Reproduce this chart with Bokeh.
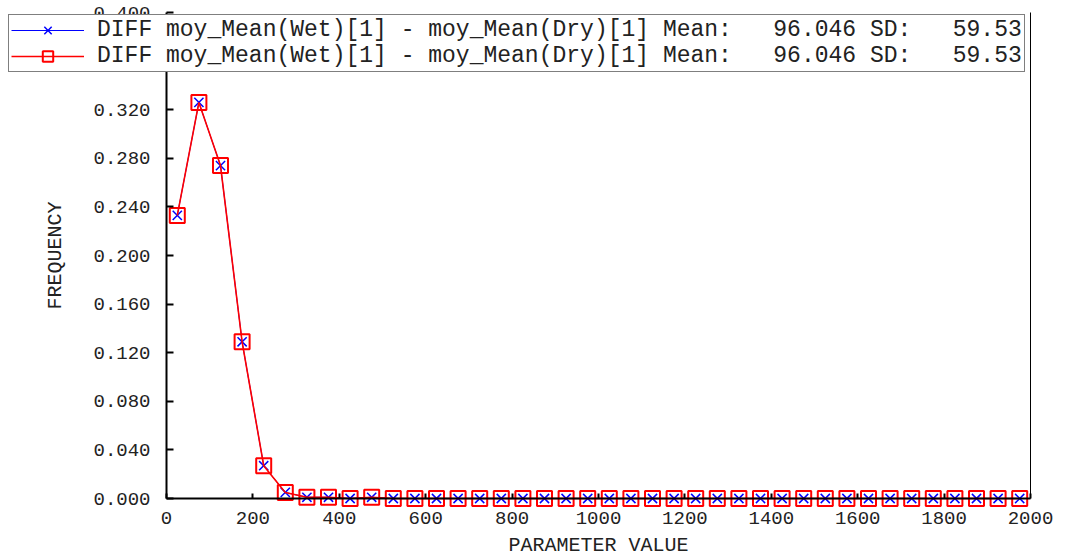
from bokeh.plotting import figure
from bokeh.models import (Legend, LegendItem, LinearAxis, Range1d, FixedTicker,
                          NumeralTickFormatter, ColumnDataSource)
from bokeh.embed import file_html
from bokeh.resources import INLINE

# ---- data ----
bin_centers = [25, 75, 125, 175, 225, 275, 325, 375, 425, 475,
               525, 575, 625, 675, 725, 775, 825, 875, 925, 975,
               1025, 1075, 1125, 1175, 1225, 1275, 1325, 1375, 1425, 1475,
               1525, 1575, 1625, 1675, 1725, 1775, 1825, 1875, 1925, 1975]
freq_wet_dry_1 = [0.233, 0.326, 0.274, 0.129, 0.027, 0.005, 0.001, 0.001, 0.000, 0.001,
                  0.000, 0.000, 0.000, 0.000, 0.000, 0.000, 0.000, 0.000, 0.000, 0.000,
                  0.000, 0.000, 0.000, 0.000, 0.000, 0.000, 0.000, 0.000, 0.000, 0.000,
                  0.000, 0.000, 0.000, 0.000, 0.000, 0.000, 0.000, 0.000, 0.000, 0.000]
freq_wet_dry_2 = [0.233, 0.326, 0.274, 0.129, 0.027, 0.005, 0.001, 0.001, 0.000, 0.001,
                  0.000, 0.000, 0.000, 0.000, 0.000, 0.000, 0.000, 0.000, 0.000, 0.000,
                  0.000, 0.000, 0.000, 0.000, 0.000, 0.000, 0.000, 0.000, 0.000, 0.000,
                  0.000, 0.000, 0.000, 0.000, 0.000, 0.000, 0.000, 0.000, 0.000, 0.000]
series_names = ["DIFF moy_Mean(Wet)[1] - moy_Mean(Dry)[1]",
                "DIFF moy_Mean(Wet)[1] - moy_Mean(Dry)[1]"]
series_means = [96.046, 96.046]
series_sds = [59.53, 59.53]
x_ticks = [0, 200, 400, 600, 800, 1000, 1200, 1400, 1600, 1800, 2000]
y_ticks = [0.0, 0.04, 0.08, 0.12, 0.16, 0.2, 0.24, 0.28, 0.32, 0.36, 0.4]
x_min, x_max = 0, 2000
y_min, y_max = 0.0, 0.4

FONT = "Liberation Mono"
W, H = 1079, 555
X0_PX, X1_PX = 166, 1030   # pixel position of x_min / x_max
Y0_PX, Y1_PX = 498, 12     # pixel position of y_min / y_max

xs = (X1_PX - X0_PX) / (x_max - x_min)
ys = (Y0_PX - Y1_PX) / (y_max - y_min)
x_range = Range1d(x_min - X0_PX / xs, x_max + (W - X1_PX) / xs)
y_range = Range1d(y_min - (H - Y0_PX) / ys, y_max + Y1_PX / ys)

p = figure(width=W, height=H, output_backend="svg", toolbar_location=None,
           x_range=x_range, y_range=y_range, min_border=0,
           x_axis_label="PARAMETER VALUE", y_axis_label="FREQUENCY")
p.grid.visible = False
p.outline_line_color = None
p.background_fill_color = "white"
p.border_fill_color = "white"

# axes
for ax in (p.xaxis[0], p.yaxis[0]):
    ax.axis_line_color = "black"
    ax.axis_line_width = 2
    ax.major_tick_line_color = "black"
    ax.major_tick_line_width = 2
    ax.minor_tick_line_color = None
    ax.major_tick_out = 0
    ax.major_label_text_font = FONT
    ax.major_label_text_font_size = "19px"
    ax.major_label_text_color = "#222222"
    ax.axis_label_text_font = FONT
    ax.axis_label_text_font_size = "20px"
    ax.axis_label_text_font_style = "normal"
    ax.axis_label_text_color = "#222222"

xa = p.xaxis[0]
xa.ticker = FixedTicker(ticks=x_ticks)
xa.fixed_location = y_min
xa.bounds = (x_min, x_max)
xa.major_tick_in = 5
xa.major_label_standoff = 13
xa.axis_label_standoff = 7

ya = p.yaxis[0]
ya.ticker = FixedTicker(ticks=y_ticks)
ya.formatter = NumeralTickFormatter(format="0.000")
ya.fixed_location = x_min
ya.bounds = (y_min, y_max)
ya.major_tick_in = 7
ya.major_label_standoff = 16
ya.axis_label_standoff = 23

right = LinearAxis(fixed_location=x_max, bounds=(y_min, y_max),
                   axis_line_color="black", axis_line_width=1,
                   major_tick_line_color=None, minor_tick_line_color=None,
                   major_label_text_font_size="0px", major_label_text_color=None)
p.add_layout(right, "right")

# series
src1 = ColumnDataSource(dict(x=bin_centers, y=freq_wet_dry_1))
src2 = ColumnDataSource(dict(x=bin_centers, y=freq_wet_dry_2))

l1 = p.line("x", "y", source=src1, line_color="#0000ff", line_width=1)
m1 = p.scatter("x", "y", source=src1, marker="x", size=13, line_color="#0000ff", line_width=1.5)
l2 = p.line("x", "y", source=src2, line_color="#ff0000", line_width=1.6)
m2 = p.scatter("x", "y", source=src2, marker="square", size=15, line_color="#ff0000",
               fill_color=None, line_width=2)

labels = [f"{n} Mean:   {m:.3f} SD:   {s:.2f}" for n, m, s in
          zip(series_names, series_means, series_sds)]

legend = Legend(items=[LegendItem(label=labels[0], renderers=[l1, m1]),
                       LegendItem(label=labels[1], renderers=[l2, m2])],
                location=(8, H - 72), margin=0, padding=2, spacing=0,
                glyph_width=73, glyph_height=26, label_height=26, label_standoff=13,
                label_text_font=FONT, label_text_font_size="23px",
                label_text_color="#222222",
                border_line_color="black", border_line_width=1,
                background_fill_color="white", background_fill_alpha=1.0)
p.add_layout(legend, "center")

open("out.html", "w").write(file_html(p, INLINE))
